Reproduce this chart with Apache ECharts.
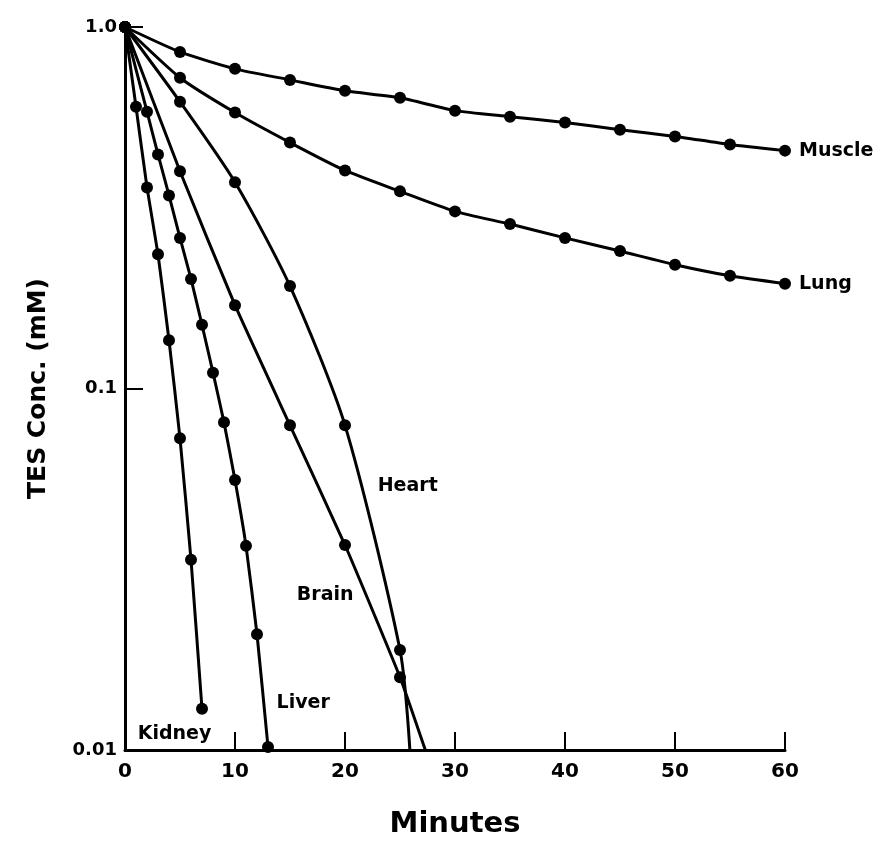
<!DOCTYPE html>
<html>
<head>
<meta charset="utf-8">
<script src="https://cdn.jsdelivr.net/npm/echarts@6/dist/echarts.min.js"></script>
<style>
html,body{margin:0;padding:0;background:#fff;}
#chart{width:885px;height:844px;}
</style>
</head>
<body>
<div id="chart"></div>
<script>
// ---- data (minutes, TES concentration mM) ----
var muscleT = [0, 5, 10, 15, 20, 25, 30, 35, 40, 45, 50, 55, 60];
var muscleV = [1.0, 0.853, 0.766, 0.714, 0.666, 0.637, 0.587, 0.565, 0.544, 0.520, 0.498, 0.473, 0.455];

var lungT = [0, 5, 10, 15, 20, 25, 30, 35, 40, 45, 50, 55, 60];
var lungV = [1.0, 0.724, 0.580, 0.479, 0.401, 0.351, 0.309, 0.285, 0.261, 0.240, 0.220, 0.205, 0.195];

var heartT = [0, 5, 10, 15, 20, 25, 25.9];
var heartV = [1.0, 0.621, 0.372, 0.192, 0.0791, 0.0189, 0.01];

var brainT = [0, 5, 10, 15, 20, 25, 27.3];
var brainV = [1.0, 0.399, 0.170, 0.0791, 0.0369, 0.0159, 0.01];

var liverT = [0, 2, 3, 4, 5, 6, 7, 8, 9, 10, 11, 12, 13];
var liverV = [1.0, 0.583, 0.444, 0.342, 0.261, 0.201, 0.150, 0.1106, 0.0806, 0.0558, 0.0367, 0.0209, 0.0102];

var kidneyT = [0, 1, 2, 3, 4, 5, 6, 7];
var kidneyV = [1.0, 0.602, 0.360, 0.235, 0.136, 0.0728, 0.0336, 0.0130];

// points measured only as line ends (no dot drawn)
var heartLineEnds = [25.9];
var brainLineEnds = [27.3];

var xTicks = ['0', '10', '20', '30', '40', '50', '60'];
var yTickLabels = {'1': '1.0', '0.1': '0.1', '0.01': '0.01'};

// label anchors in data units (minutes, mM)
var labelNames = ['Heart', 'Brain', 'Liver', 'Kidney'];
var labelT = [25.7, 18.2, 16.2, 4.5];
var labelV = [0.0537, 0.0269, 0.01348, 0.01107];

var FONT = 'DejaVu Sans';

function pairs(t, v, noDot) {
  return t.map(function (x, i) {
    var d = {value: [x, v[i]]};
    if (noDot && noDot.indexOf(x) >= 0) d.symbol = 'none';
    return d;
  });
}

function lineSeries(name, t, v, noDot, endLabel, smooth) {
  var s = {
    name: name,
    type: 'line',
    data: pairs(t, v, noDot),
    symbol: 'circle',
    symbolSize: 12,
    smooth: smooth || 0,
    lineStyle: {color: '#000', width: 3},
    itemStyle: {color: '#000'},
    z: 3
  };
  if (endLabel) {
    s.endLabel = {
      show: true, formatter: name, distance: 14,
      color: '#000', fontFamily: FONT, fontWeight: 'bold', fontSize: 19
    };
  }
  return s;
}

var chart = echarts.init(document.getElementById('chart'), null, {renderer: 'canvas'});
chart.setOption({
  backgroundColor: '#fff',
  animation: false,
  grid: {left: 125, right: 100, top: 27, bottom: 91, containLabel: false},
  xAxis: {
    type: 'value', min: 0, max: 60, interval: 10,
    name: 'Minutes', nameLocation: 'middle', nameGap: 60,
    nameTextStyle: {color: '#000', fontFamily: FONT, fontWeight: 'bold', fontSize: 29},
    axisLine: {lineStyle: {color: '#000', width: 3}},
    axisTick: {show: true, inside: true, length: 18, lineStyle: {color: '#000', width: 2}},
    axisLabel: {color: '#000', fontFamily: FONT, fontWeight: 'bold', fontSize: 20, margin: 12,
      formatter: function (v) { return xTicks[Math.round(v / 10)]; }},
    splitLine: {show: false}
  },
  yAxis: {
    type: 'log', logBase: 10, min: 0.01, max: 1,
    name: 'TES Conc. (mM)', nameLocation: 'middle', nameGap: 74, nameRotate: 90,
    nameTextStyle: {color: '#000', fontFamily: FONT, fontWeight: 'bold', fontSize: 25},
    axisLine: {show: true, lineStyle: {color: '#000', width: 3}},
    axisTick: {show: true, inside: true, length: 18, lineStyle: {color: '#000', width: 2}},
    minorTick: {show: false},
    axisLabel: {color: '#000', fontFamily: FONT, fontWeight: 'bold', fontSize: 18, margin: 8,
      formatter: function (v) {
        var k = String(Math.round(v * 100) / 100);
        return yTickLabels[k] !== undefined ? yTickLabels[k] : '';
      }},
    splitLine: {show: false}
  },
  series: [
    lineSeries('Muscle', muscleT, muscleV, null, true, 0.2),
    lineSeries('Lung', lungT, lungV, null, true, 0.2),
    lineSeries('Heart', heartT, heartV, heartLineEnds, false, 0.25),
    lineSeries('Brain', brainT, brainV, brainLineEnds, false, 0.15),
    lineSeries('Liver', liverT, liverV, null, false, 0.15),
    lineSeries('Kidney', kidneyT, kidneyV, null, false, 0.15),
    {
      type: 'scatter',
      symbolSize: 0,
      silent: true,
      itemStyle: {opacity: 1, color: '#000'},
      data: labelNames.map(function (n, i) { return [labelT[i], labelV[i], n]; }),
      label: {
        show: true, position: 'inside',
        formatter: function (p) { return p.value[2]; },
        color: '#000', fontFamily: FONT, fontWeight: 'bold', fontSize: 19
      },
      z: 5
    }
  ]
});
</script>
</body>
</html>
